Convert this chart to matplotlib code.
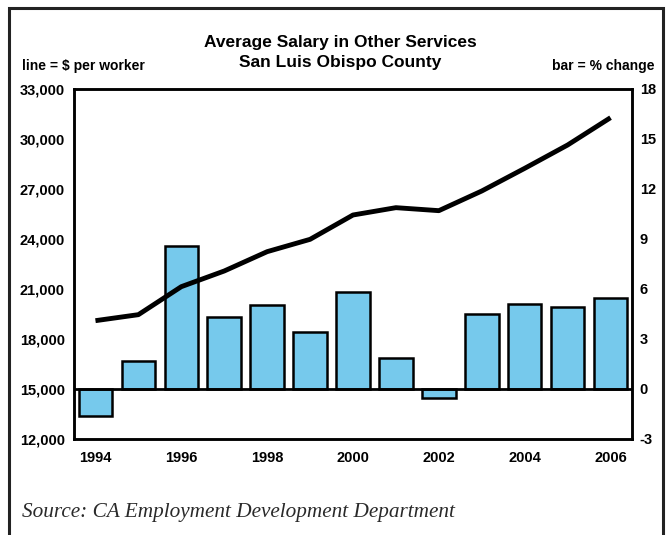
import matplotlib
matplotlib.use("Agg")
import matplotlib.pyplot as plt
from matplotlib.patches import Rectangle

years = [1994, 1995, 1996, 1997, 1998, 1999, 2000, 2001, 2002, 2003, 2004, 2005, 2006]
salary = [19100, 19460, 21140, 22080, 23240, 23980, 25440, 25880, 25700, 26880, 28240, 29640, 31280]
pct_change = [-1.6, 1.7, 8.6, 4.35, 5.05, 3.4, 5.8, 1.85, -0.55, 4.5, 5.1, 4.95, 5.45]

left_ticks = [12000, 15000, 18000, 21000, 24000, 27000, 30000, 33000]
right_ticks = [-3, 0, 3, 6, 9, 12, 15, 18]
year_ticks = [1994, 1996, 1998, 2000, 2002, 2004, 2006]

sans = "Liberation Sans"
serif = "Liberation Serif"

fig = plt.figure(figsize=(6.71, 5.35), dpi=100)
ax = fig.add_axes([74/671, 1 - 439/535, (632-74)/671, (439-89)/535])
ax2 = ax.twinx()

# bars on the primary axes (right-hand scale), line on the twin (left-hand scale)
ax.bar(years, pct_change, width=0.78, color="#76C9EC", edgecolor="black", linewidth=1.8, zorder=2)
ax.axhline(0, color="black", linewidth=2, zorder=3)
ax.set_ylim(-3, 18)
ax.set_xlim(1993.5, 2006.5)
ax.set_yticks(right_ticks)
ax.set_yticklabels([str(t) for t in right_ticks])
ax.yaxis.tick_right()
ax.set_xticks(year_ticks)
ax.set_xticklabels([str(y) for y in year_ticks])

ax2.plot(years, salary, color="black", linewidth=3.5, solid_capstyle="butt", zorder=4)
ax2.set_ylim(12000, 33000)
ax2.set_yticks(left_ticks)
ax2.set_yticklabels([f"{t:,}" for t in left_ticks])
ax2.yaxis.tick_left()

ax.set_zorder(1)
ax2.set_zorder(2)
ax2.patch.set_visible(False)

for a in (ax, ax2):
    a.tick_params(length=0, labelsize=10.5)
    for lab in a.get_xticklabels() + a.get_yticklabels():
        lab.set_fontfamily(sans)
        lab.set_fontweight("bold")
    for s in a.spines.values():
        s.set_linewidth(1.8)
ax.tick_params(axis="y", pad=5.5)
ax2.tick_params(axis="y", pad=6.5)
ax.tick_params(axis="x", pad=9)

fig.text(340/671, 1 - 42/535, "Average Salary in Other Services", ha="center", va="center",
         fontsize=12.5, fontweight="bold", family=sans)
fig.text(340/671, 1 - 62/535, "San Luis Obispo County", ha="center", va="center",
         fontsize=12.5, fontweight="bold", family=sans)
fig.text(22/671, 1 - 66/535, "line = $ per worker", ha="left", va="center",
         fontsize=10, fontweight="bold", family=sans)
fig.text(655/671, 1 - 66/535, "bar = % change", ha="right", va="center",
         fontsize=10, fontweight="bold", family=sans)
fig.text(22/671, 1 - 512/535, "Source: CA Employment Development Department", ha="left", va="center",
         fontsize=15.3, style="italic", family=serif, color="#2a2a2a")

# outer frame (bottom edge runs off the picture)
fig.patches.append(Rectangle((9/671, -0.05), (663-9)/671, 1.05 - 8/535, transform=fig.transFigure,
                             fill=False, edgecolor="#222222", linewidth=2.2))

fig.savefig("out.png", dpi=100)
